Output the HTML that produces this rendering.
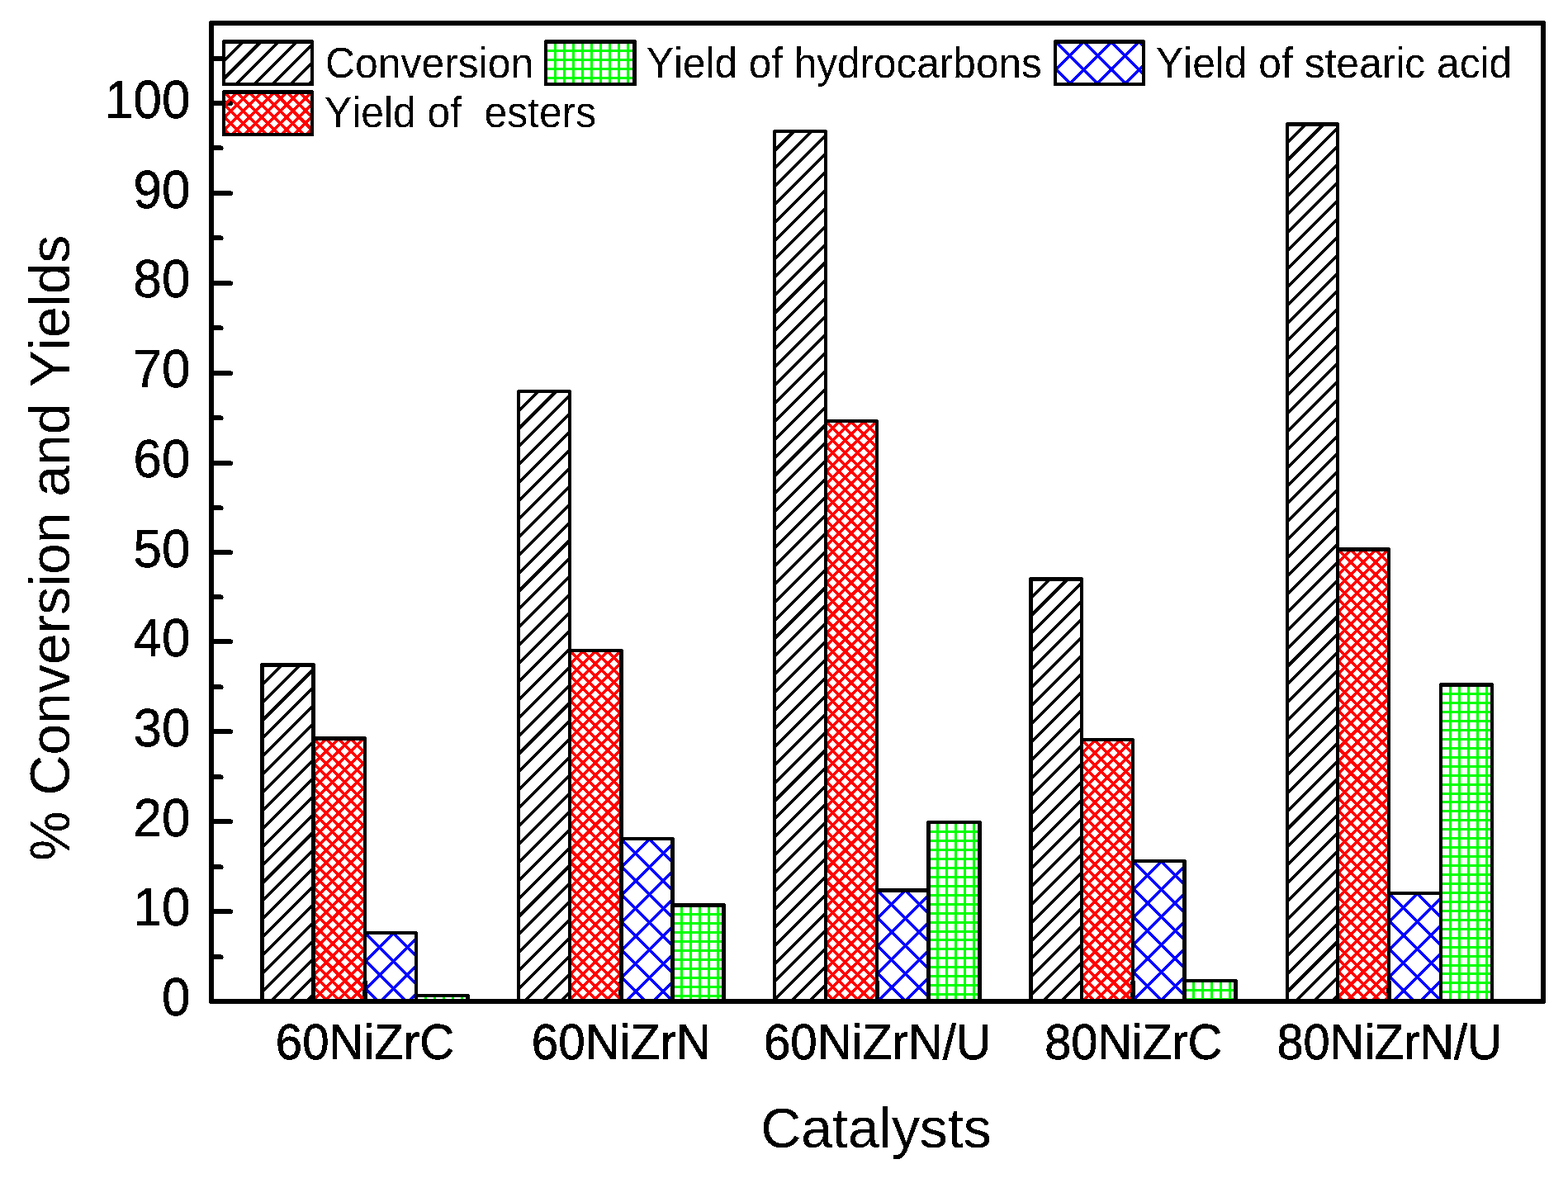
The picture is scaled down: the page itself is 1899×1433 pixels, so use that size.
<!DOCTYPE html>
<html lang="en"><head><meta charset="utf-8"><title>Conversion and yields over catalysts</title>
<style>
html,body{margin:0;padding:0;background:#fff}
body{width:1899px;height:1433px;overflow:hidden}
svg{display:block;font-family:"Liberation Sans",Arial,Helvetica,sans-serif;font-kerning:none}
text{fill:#000;white-space:pre}
</style></head><body>
<svg width="1899" height="1433" viewBox="0 0 1899 1433" role="img" aria-label="Grouped bar chart: percent conversion and yields for five catalysts">
<defs><filter id="bw" x="-5%" y="-20%" width="110%" height="140%" color-interpolation-filters="sRGB"><feComponentTransfer><feFuncA type="discrete" tableValues="0 1"/></feComponentTransfer></filter><clipPath id="c1"><rect x="320" y="808" width="57" height="402"/></clipPath><clipPath id="c2"><rect x="382" y="897" width="58" height="313"/></clipPath><clipPath id="c3"><rect x="444" y="1132" width="58" height="78"/></clipPath><clipPath id="c4"><rect x="506" y="1208" width="58" height="2"/></clipPath><clipPath id="c5"><rect x="630" y="476" width="58" height="734"/></clipPath><clipPath id="c6"><rect x="692" y="790" width="58" height="420"/></clipPath><clipPath id="c7"><rect x="755" y="1018" width="57" height="192"/></clipPath><clipPath id="c8"><rect x="817" y="1099" width="57" height="111"/></clipPath><clipPath id="c9"><rect x="940" y="161" width="58" height="1049"/></clipPath><clipPath id="c10"><rect x="1002" y="512" width="58" height="698"/></clipPath><clipPath id="c11"><rect x="1064" y="1081" width="58" height="129"/></clipPath><clipPath id="c12"><rect x="1127" y="998" width="57" height="212"/></clipPath><clipPath id="c13"><rect x="1251" y="704" width="57" height="506"/></clipPath><clipPath id="c14"><rect x="1312" y="898" width="58" height="312"/></clipPath><clipPath id="c15"><rect x="1374" y="1045" width="58" height="165"/></clipPath><clipPath id="c16"><rect x="1437" y="1190" width="57" height="20"/></clipPath><clipPath id="c17"><rect x="1561" y="153" width="57" height="1057"/></clipPath><clipPath id="c18"><rect x="1622" y="668" width="58" height="542"/></clipPath><clipPath id="c19"><rect x="1684" y="1084" width="59" height="126"/></clipPath><clipPath id="c20"><rect x="1747" y="832" width="58" height="378"/></clipPath><clipPath id="c21"><rect x="273" y="53" width="103" height="47"/></clipPath><clipPath id="c22"><rect x="663" y="53" width="103" height="47"/></clipPath><clipPath id="c23"><rect x="1280" y="53" width="103" height="47"/></clipPath><clipPath id="c24"><rect x="273" y="114" width="103" height="47"/></clipPath></defs>
<rect width="1899" height="1433" fill="#fff"/>
<path id="ticks" d="M259 1156h9v1h2v2h1v1h-1v2H259zM259 1101h21v1h2v4h-1v1H259zM259 1047h9v1h2v2h1v1h-1v2H259zM259 992h21v1h2v4h-1v1H259zM259 938h9v1h2v2h1v1h-1v2H259zM259 883h21v1h2v4h-1v1H259zM259 829h9v1h2v2h1v1h-1v2H259zM259 774h21v1h2v4h-1v1H259zM259 720h9v1h2v2h1v1h-1v2H259zM259 666h21v1h2v4h-1v1H259zM259 612h9v1h2v2h1v1h-1v2H259zM259 558h21v1h2v4h-1v1H259zM259 503h9v1h2v2h1v1h-1v2H259zM259 449h21v1h2v4h-1v1H259zM259 394h9v1h2v2h1v1h-1v2H259zM259 340h21v1h2v4h-1v1H259zM259 285h9v1h2v2h1v1h-1v2H259zM259 231h21v1h2v4h-1v1H259zM259 176h9v1h2v2h1v1h-1v2H259zM259 122h21v1h2v4h-1v1H259zM259 68h11v6H259zM439 1210V1189l1 -1h4l1 1V1210zM749 1210V1189l1 -1h4l1 1V1210zM1060 1210V1189l1 -1h3l1 1V1210zM1369 1210V1189l1 -1h4l1 1V1210zM1679 1210V1189l1 -1h4l1 1V1210z" fill="#000" shape-rendering="crispEdges"/>
<g id="hatch" fill="none" shape-rendering="crispEdges">
<path clip-path="url(#c1)" d="M316 808.81L381 743.81M316 830.7L381 765.7M316 852.59L381 787.59M316 874.48L381 809.48M316 896.37L381 831.37M316 918.26L381 853.26M316 940.15L381 875.15M316 962.04L381 897.04M316 983.93L381 918.93M316 1005.82L381 940.82M316 1027.71L381 962.71M316 1049.6L381 984.6M316 1071.49L381 1006.49M316 1093.38L381 1028.38M316 1115.27L381 1050.27M316 1137.16L381 1072.16M316 1159.05L381 1094.05M316 1180.94L381 1115.94M316 1202.83L381 1137.83M316 1224.72L381 1159.72M316 1246.61L381 1181.61M316 1268.5L381 1203.5" stroke="#000" stroke-width="3.6"/>
<path clip-path="url(#c2)" d="M378 896.7L444 830.7M378 911.75L444 845.75M378 926.8L444 860.8M378 941.85L444 875.85M378 956.9L444 890.9M378 971.95L444 905.95M378 987L444 921M378 1002.05L444 936.05M378 1017.1L444 951.1M378 1032.15L444 966.15M378 1047.2L444 981.2M378 1062.25L444 996.25M378 1077.3L444 1011.3M378 1092.35L444 1026.35M378 1107.4L444 1041.4M378 1122.45L444 1056.45M378 1137.5L444 1071.5M378 1152.55L444 1086.55M378 1167.6L444 1101.6M378 1182.65L444 1116.65M378 1197.7L444 1131.7M378 1212.75L444 1146.75M378 1227.8L444 1161.8M378 1242.85L444 1176.85M378 1257.9L444 1191.9M378 1272.95L444 1206.95M378 1208.75L444 1274.75M378 1193.7L444 1259.7M378 1178.65L444 1244.65M378 1163.6L444 1229.6M378 1148.55L444 1214.55M378 1133.5L444 1199.5M378 1118.45L444 1184.45M378 1103.4L444 1169.4M378 1088.35L444 1154.35M378 1073.3L444 1139.3M378 1058.25L444 1124.25M378 1043.2L444 1109.2M378 1028.15L444 1094.15M378 1013.1L444 1079.1M378 998.05L444 1064.05M378 983L444 1049M378 967.95L444 1033.95M378 952.9L444 1018.9M378 937.85L444 1003.85M378 922.8L444 988.8M378 907.75L444 973.75M378 892.7L444 958.7M378 877.65L444 943.65M378 862.6L444 928.6M378 847.55L444 913.55M378 832.5L444 898.5" stroke="#f00" stroke-width="3.6"/>
<path clip-path="url(#c3)" d="M440 1133.7L506 1067.7M440 1167.2L506 1101.2M440 1200.7L506 1134.7M440 1234.2L506 1168.2M440 1267.7L506 1201.7M440 1194.7L506 1260.7M440 1161.2L506 1227.2M440 1127.7L506 1193.7M440 1094.2L506 1160.2" stroke="#00f" stroke-width="3.6"/>
<path clip-path="url(#c4)" d="M515.95 1208V1210M526.89 1208V1210M537.84 1208V1210M548.78 1208V1210M559.73 1208V1210" stroke="#0f0" stroke-width="3"/>
<path clip-path="url(#c5)" d="M626 477.71L692 411.71M626 499.6L692 433.6M626 521.49L692 455.49M626 543.38L692 477.38M626 565.27L692 499.27M626 587.16L692 521.16M626 609.05L692 543.05M626 630.94L692 564.94M626 652.83L692 586.83M626 674.72L692 608.72M626 696.61L692 630.61M626 718.5L692 652.5M626 740.39L692 674.39M626 762.28L692 696.28M626 784.17L692 718.17M626 806.06L692 740.06M626 827.95L692 761.95M626 849.84L692 783.84M626 871.73L692 805.73M626 893.62L692 827.62M626 915.51L692 849.51M626 937.4L692 871.4M626 959.29L692 893.29M626 981.18L692 915.18M626 1003.07L692 937.07M626 1024.96L692 958.96M626 1046.85L692 980.85M626 1068.74L692 1002.74M626 1090.63L692 1024.63M626 1112.52L692 1046.52M626 1134.41L692 1068.41M626 1156.3L692 1090.3M626 1178.19L692 1112.19M626 1200.08L692 1134.08M626 1221.97L692 1155.97M626 1243.86L692 1177.86M626 1265.75L692 1199.75" stroke="#000" stroke-width="3.6"/>
<path clip-path="url(#c6)" d="M688 791.7L754 725.7M688 806.75L754 740.75M688 821.8L754 755.8M688 836.85L754 770.85M688 851.9L754 785.9M688 866.95L754 800.95M688 882L754 816M688 897.05L754 831.05M688 912.1L754 846.1M688 927.15L754 861.15M688 942.2L754 876.2M688 957.25L754 891.25M688 972.3L754 906.3M688 987.35L754 921.35M688 1002.4L754 936.4M688 1017.45L754 951.45M688 1032.5L754 966.5M688 1047.55L754 981.55M688 1062.6L754 996.6M688 1077.65L754 1011.65M688 1092.7L754 1026.7M688 1107.75L754 1041.75M688 1122.8L754 1056.8M688 1137.85L754 1071.85M688 1152.9L754 1086.9M688 1167.95L754 1101.95M688 1183L754 1117M688 1198.05L754 1132.05M688 1213.1L754 1147.1M688 1228.15L754 1162.15M688 1243.2L754 1177.2M688 1258.25L754 1192.25M688 1273.3L754 1207.3M688 1207.1L754 1273.1M688 1192.05L754 1258.05M688 1177L754 1243M688 1161.95L754 1227.95M688 1146.9L754 1212.9M688 1131.85L754 1197.85M688 1116.8L754 1182.8M688 1101.75L754 1167.75M688 1086.7L754 1152.7M688 1071.65L754 1137.65M688 1056.6L754 1122.6M688 1041.55L754 1107.55M688 1026.5L754 1092.5M688 1011.45L754 1077.45M688 996.4L754 1062.4M688 981.35L754 1047.35M688 966.3L754 1032.3M688 951.25L754 1017.25M688 936.2L754 1002.2M688 921.15L754 987.15M688 906.1L754 972.1M688 891.05L754 957.05M688 876L754 942M688 860.95L754 926.95M688 845.9L754 911.9M688 830.85L754 896.85M688 815.8L754 881.8M688 800.75L754 866.75M688 785.7L754 851.7M688 770.65L754 836.65M688 755.6L754 821.6M688 740.55L754 806.55M688 725.5L754 791.5" stroke="#f00" stroke-width="3.6"/>
<path clip-path="url(#c7)" d="M751 1018.7L816 953.7M751 1052.2L816 987.2M751 1085.7L816 1020.7M751 1119.2L816 1054.2M751 1152.7L816 1087.7M751 1186.2L816 1121.2M751 1219.7L816 1154.7M751 1253.2L816 1188.2M751 1182.2L816 1247.2M751 1148.7L816 1213.7M751 1115.2L816 1180.2M751 1081.7L816 1146.7M751 1048.2L816 1113.2M751 1014.7L816 1079.7M751 981.2L816 1046.2" stroke="#00f" stroke-width="3.6"/>
<path clip-path="url(#c8)" d="M825.95 1099V1210M836.89 1099V1210M847.84 1099V1210M858.78 1099V1210M869.73 1099V1210M817 1107.64H874M817 1118.59H874M817 1129.53H874M817 1140.48H874M817 1151.42H874M817 1162.37H874M817 1173.31H874M817 1184.26H874M817 1195.2H874M817 1206.15H874" stroke="#0f0" stroke-width="3"/>
<path clip-path="url(#c9)" d="M936 162.61L1002 96.61M936 184.5L1002 118.5M936 206.39L1002 140.39M936 228.28L1002 162.28M936 250.17L1002 184.17M936 272.06L1002 206.06M936 293.95L1002 227.95M936 315.84L1002 249.84M936 337.73L1002 271.73M936 359.62L1002 293.62M936 381.51L1002 315.51M936 403.4L1002 337.4M936 425.29L1002 359.29M936 447.18L1002 381.18M936 469.07L1002 403.07M936 490.96L1002 424.96M936 512.85L1002 446.85M936 534.74L1002 468.74M936 556.63L1002 490.63M936 578.52L1002 512.52M936 600.41L1002 534.41M936 622.3L1002 556.3M936 644.19L1002 578.19M936 666.08L1002 600.08M936 687.97L1002 621.97M936 709.86L1002 643.86M936 731.75L1002 665.75M936 753.64L1002 687.64M936 775.53L1002 709.53M936 797.42L1002 731.42M936 819.31L1002 753.31M936 841.2L1002 775.2M936 863.09L1002 797.09M936 884.98L1002 818.98M936 906.87L1002 840.87M936 928.76L1002 862.76M936 950.65L1002 884.65M936 972.54L1002 906.54M936 994.43L1002 928.43M936 1016.32L1002 950.32M936 1038.21L1002 972.21M936 1060.1L1002 994.1M936 1081.99L1002 1015.99M936 1103.88L1002 1037.88M936 1125.77L1002 1059.77M936 1147.66L1002 1081.66M936 1169.55L1002 1103.55M936 1191.44L1002 1125.44M936 1213.33L1002 1147.33M936 1235.22L1002 1169.22M936 1257.11L1002 1191.11M936 1279L1002 1213" stroke="#000" stroke-width="3.6"/>
<path clip-path="url(#c10)" d="M998 513.7L1064 447.7M998 528.75L1064 462.75M998 543.8L1064 477.8M998 558.85L1064 492.85M998 573.9L1064 507.9M998 588.95L1064 522.95M998 604L1064 538M998 619.05L1064 553.05M998 634.1L1064 568.1M998 649.15L1064 583.15M998 664.2L1064 598.2M998 679.25L1064 613.25M998 694.3L1064 628.3M998 709.35L1064 643.35M998 724.4L1064 658.4M998 739.45L1064 673.45M998 754.5L1064 688.5M998 769.55L1064 703.55M998 784.6L1064 718.6M998 799.65L1064 733.65M998 814.7L1064 748.7M998 829.75L1064 763.75M998 844.8L1064 778.8M998 859.85L1064 793.85M998 874.9L1064 808.9M998 889.95L1064 823.95M998 905L1064 839M998 920.05L1064 854.05M998 935.1L1064 869.1M998 950.15L1064 884.15M998 965.2L1064 899.2M998 980.25L1064 914.25M998 995.3L1064 929.3M998 1010.35L1064 944.35M998 1025.4L1064 959.4M998 1040.45L1064 974.45M998 1055.5L1064 989.5M998 1070.55L1064 1004.55M998 1085.6L1064 1019.6M998 1100.65L1064 1034.65M998 1115.7L1064 1049.7M998 1130.75L1064 1064.75M998 1145.8L1064 1079.8M998 1160.85L1064 1094.85M998 1175.9L1064 1109.9M998 1190.95L1064 1124.95M998 1206L1064 1140M998 1221.05L1064 1155.05M998 1236.1L1064 1170.1M998 1251.15L1064 1185.15M998 1266.2L1064 1200.2M998 1200L1064 1266M998 1184.95L1064 1250.95M998 1169.9L1064 1235.9M998 1154.85L1064 1220.85M998 1139.8L1064 1205.8M998 1124.75L1064 1190.75M998 1109.7L1064 1175.7M998 1094.65L1064 1160.65M998 1079.6L1064 1145.6M998 1064.55L1064 1130.55M998 1049.5L1064 1115.5M998 1034.45L1064 1100.45M998 1019.4L1064 1085.4M998 1004.35L1064 1070.35M998 989.3L1064 1055.3M998 974.25L1064 1040.25M998 959.2L1064 1025.2M998 944.15L1064 1010.15M998 929.1L1064 995.1M998 914.05L1064 980.05M998 899L1064 965M998 883.95L1064 949.95M998 868.9L1064 934.9M998 853.85L1064 919.85M998 838.8L1064 904.8M998 823.75L1064 889.75M998 808.7L1064 874.7M998 793.65L1064 859.65M998 778.6L1064 844.6M998 763.55L1064 829.55M998 748.5L1064 814.5M998 733.45L1064 799.45M998 718.4L1064 784.4M998 703.35L1064 769.35M998 688.3L1064 754.3M998 673.25L1064 739.25M998 658.2L1064 724.2M998 643.15L1064 709.15M998 628.1L1064 694.1M998 613.05L1064 679.05M998 598L1064 664M998 582.95L1064 648.95M998 567.9L1064 633.9M998 552.85L1064 618.85M998 537.8L1064 603.8M998 522.75L1064 588.75M998 507.7L1064 573.7M998 492.65L1064 558.65M998 477.6L1064 543.6M998 462.55L1064 528.55M998 447.5L1064 513.5" stroke="#f00" stroke-width="3.6"/>
<path clip-path="url(#c11)" d="M1060 1081.7L1126 1015.7M1060 1115.2L1126 1049.2M1060 1148.7L1126 1082.7M1060 1182.2L1126 1116.2M1060 1215.7L1126 1149.7M1060 1249.2L1126 1183.2M1060 1209.7L1126 1275.7M1060 1176.2L1126 1242.2M1060 1142.7L1126 1208.7M1060 1109.2L1126 1175.2M1060 1075.7L1126 1141.7M1060 1042.2L1126 1108.2" stroke="#00f" stroke-width="3.6"/>
<path clip-path="url(#c12)" d="M1135.94 998V1210M1146.89 998V1210M1157.83 998V1210M1168.78 998V1210M1179.72 998V1210M1127 1007.65H1184M1127 1018.59H1184M1127 1029.54H1184M1127 1040.48H1184M1127 1051.42H1184M1127 1062.37H1184M1127 1073.31H1184M1127 1084.26H1184M1127 1095.2H1184M1127 1106.15H1184M1127 1117.09H1184M1127 1128.04H1184M1127 1138.98H1184M1127 1149.93H1184M1127 1160.87H1184M1127 1171.82H1184M1127 1182.76H1184M1127 1193.71H1184M1127 1204.65H1184" stroke="#0f0" stroke-width="3"/>
<path clip-path="url(#c13)" d="M1247 703.76L1312 638.76M1247 725.65L1312 660.65M1247 747.54L1312 682.54M1247 769.43L1312 704.43M1247 791.32L1312 726.32M1247 813.21L1312 748.21M1247 835.1L1312 770.1M1247 856.99L1312 791.99M1247 878.88L1312 813.88M1247 900.77L1312 835.77M1247 922.66L1312 857.66M1247 944.55L1312 879.55M1247 966.44L1312 901.44M1247 988.33L1312 923.33M1247 1010.22L1312 945.22M1247 1032.11L1312 967.11M1247 1054L1312 989M1247 1075.89L1312 1010.89M1247 1097.78L1312 1032.78M1247 1119.67L1312 1054.67M1247 1141.56L1312 1076.56M1247 1163.45L1312 1098.45M1247 1185.34L1312 1120.34M1247 1207.23L1312 1142.23M1247 1229.12L1312 1164.12M1247 1251.01L1312 1186.01M1247 1272.9L1312 1207.9" stroke="#000" stroke-width="3.6"/>
<path clip-path="url(#c14)" d="M1308 899.7L1374 833.7M1308 914.75L1374 848.75M1308 929.8L1374 863.8M1308 944.85L1374 878.85M1308 959.9L1374 893.9M1308 974.95L1374 908.95M1308 990L1374 924M1308 1005.05L1374 939.05M1308 1020.1L1374 954.1M1308 1035.15L1374 969.15M1308 1050.2L1374 984.2M1308 1065.25L1374 999.25M1308 1080.3L1374 1014.3M1308 1095.35L1374 1029.35M1308 1110.4L1374 1044.4M1308 1125.45L1374 1059.45M1308 1140.5L1374 1074.5M1308 1155.55L1374 1089.55M1308 1170.6L1374 1104.6M1308 1185.65L1374 1119.65M1308 1200.7L1374 1134.7M1308 1215.75L1374 1149.75M1308 1230.8L1374 1164.8M1308 1245.85L1374 1179.85M1308 1260.9L1374 1194.9M1308 1275.95L1374 1209.95M1308 1209.75L1374 1275.75M1308 1194.7L1374 1260.7M1308 1179.65L1374 1245.65M1308 1164.6L1374 1230.6M1308 1149.55L1374 1215.55M1308 1134.5L1374 1200.5M1308 1119.45L1374 1185.45M1308 1104.4L1374 1170.4M1308 1089.35L1374 1155.35M1308 1074.3L1374 1140.3M1308 1059.25L1374 1125.25M1308 1044.2L1374 1110.2M1308 1029.15L1374 1095.15M1308 1014.1L1374 1080.1M1308 999.05L1374 1065.05M1308 984L1374 1050M1308 968.95L1374 1034.95M1308 953.9L1374 1019.9M1308 938.85L1374 1004.85M1308 923.8L1374 989.8M1308 908.75L1374 974.75M1308 893.7L1374 959.7M1308 878.65L1374 944.65M1308 863.6L1374 929.6M1308 848.55L1374 914.55M1308 833.5L1374 899.5" stroke="#f00" stroke-width="3.6"/>
<path clip-path="url(#c15)" d="M1370 1046.7L1436 980.7M1370 1080.2L1436 1014.2M1370 1113.7L1436 1047.7M1370 1147.2L1436 1081.2M1370 1180.7L1436 1114.7M1370 1214.2L1436 1148.2M1370 1247.7L1436 1181.7M1370 1208.2L1436 1274.2M1370 1174.7L1436 1240.7M1370 1141.2L1436 1207.2M1370 1107.7L1436 1173.7M1370 1074.2L1436 1140.2M1370 1040.7L1436 1106.7M1370 1007.2L1436 1073.2" stroke="#00f" stroke-width="3.6"/>
<path clip-path="url(#c16)" d="M1445.94 1190V1210M1456.89 1190V1210M1467.83 1190V1210M1478.78 1190V1210M1489.72 1190V1210M1437 1199.64H1494M1437 1210.59H1494" stroke="#0f0" stroke-width="3"/>
<path clip-path="url(#c17)" d="M1557 152.76L1622 87.76M1557 174.65L1622 109.65M1557 196.54L1622 131.54M1557 218.43L1622 153.43M1557 240.32L1622 175.32M1557 262.21L1622 197.21M1557 284.1L1622 219.1M1557 305.99L1622 240.99M1557 327.88L1622 262.88M1557 349.77L1622 284.77M1557 371.66L1622 306.66M1557 393.55L1622 328.55M1557 415.44L1622 350.44M1557 437.33L1622 372.33M1557 459.22L1622 394.22M1557 481.11L1622 416.11M1557 503L1622 438M1557 524.89L1622 459.89M1557 546.78L1622 481.78M1557 568.67L1622 503.67M1557 590.56L1622 525.56M1557 612.45L1622 547.45M1557 634.34L1622 569.34M1557 656.23L1622 591.23M1557 678.12L1622 613.12M1557 700.01L1622 635.01M1557 721.9L1622 656.9M1557 743.79L1622 678.79M1557 765.68L1622 700.68M1557 787.57L1622 722.57M1557 809.46L1622 744.46M1557 831.35L1622 766.35M1557 853.24L1622 788.24M1557 875.13L1622 810.13M1557 897.02L1622 832.02M1557 918.91L1622 853.91M1557 940.8L1622 875.8M1557 962.69L1622 897.69M1557 984.58L1622 919.58M1557 1006.47L1622 941.47M1557 1028.36L1622 963.36M1557 1050.25L1622 985.25M1557 1072.14L1622 1007.14M1557 1094.03L1622 1029.03M1557 1115.92L1622 1050.92M1557 1137.81L1622 1072.81M1557 1159.7L1622 1094.7M1557 1181.59L1622 1116.59M1557 1203.48L1622 1138.48M1557 1225.37L1622 1160.37M1557 1247.26L1622 1182.26M1557 1269.15L1622 1204.15" stroke="#000" stroke-width="3.6"/>
<path clip-path="url(#c18)" d="M1618 668.7L1684 602.7M1618 683.75L1684 617.75M1618 698.8L1684 632.8M1618 713.85L1684 647.85M1618 728.9L1684 662.9M1618 743.95L1684 677.95M1618 759L1684 693M1618 774.05L1684 708.05M1618 789.1L1684 723.1M1618 804.15L1684 738.15M1618 819.2L1684 753.2M1618 834.25L1684 768.25M1618 849.3L1684 783.3M1618 864.35L1684 798.35M1618 879.4L1684 813.4M1618 894.45L1684 828.45M1618 909.5L1684 843.5M1618 924.55L1684 858.55M1618 939.6L1684 873.6M1618 954.65L1684 888.65M1618 969.7L1684 903.7M1618 984.75L1684 918.75M1618 999.8L1684 933.8M1618 1014.85L1684 948.85M1618 1029.9L1684 963.9M1618 1044.95L1684 978.95M1618 1060L1684 994M1618 1075.05L1684 1009.05M1618 1090.1L1684 1024.1M1618 1105.15L1684 1039.15M1618 1120.2L1684 1054.2M1618 1135.25L1684 1069.25M1618 1150.3L1684 1084.3M1618 1165.35L1684 1099.35M1618 1180.4L1684 1114.4M1618 1195.45L1684 1129.45M1618 1210.5L1684 1144.5M1618 1225.55L1684 1159.55M1618 1240.6L1684 1174.6M1618 1255.65L1684 1189.65M1618 1270.7L1684 1204.7M1618 1204.5L1684 1270.5M1618 1189.45L1684 1255.45M1618 1174.4L1684 1240.4M1618 1159.35L1684 1225.35M1618 1144.3L1684 1210.3M1618 1129.25L1684 1195.25M1618 1114.2L1684 1180.2M1618 1099.15L1684 1165.15M1618 1084.1L1684 1150.1M1618 1069.05L1684 1135.05M1618 1054L1684 1120M1618 1038.95L1684 1104.95M1618 1023.9L1684 1089.9M1618 1008.85L1684 1074.85M1618 993.8L1684 1059.8M1618 978.75L1684 1044.75M1618 963.7L1684 1029.7M1618 948.65L1684 1014.65M1618 933.6L1684 999.6M1618 918.55L1684 984.55M1618 903.5L1684 969.5M1618 888.45L1684 954.45M1618 873.4L1684 939.4M1618 858.35L1684 924.35M1618 843.3L1684 909.3M1618 828.25L1684 894.25M1618 813.2L1684 879.2M1618 798.15L1684 864.15M1618 783.1L1684 849.1M1618 768.05L1684 834.05M1618 753L1684 819M1618 737.95L1684 803.95M1618 722.9L1684 788.9M1618 707.85L1684 773.85M1618 692.8L1684 758.8M1618 677.75L1684 743.75M1618 662.7L1684 728.7M1618 647.65L1684 713.65M1618 632.6L1684 698.6M1618 617.55L1684 683.55M1618 602.5L1684 668.5" stroke="#f00" stroke-width="3.6"/>
<path clip-path="url(#c19)" d="M1680 1085.7L1747 1018.7M1680 1119.2L1747 1052.2M1680 1152.7L1747 1085.7M1680 1186.2L1747 1119.2M1680 1219.7L1747 1152.7M1680 1253.2L1747 1186.2M1680 1180.2L1747 1247.2M1680 1146.7L1747 1213.7M1680 1113.2L1747 1180.2M1680 1079.7L1747 1146.7M1680 1046.2L1747 1113.2" stroke="#00f" stroke-width="3.6"/>
<path clip-path="url(#c20)" d="M1756.94 832V1210M1767.89 832V1210M1778.83 832V1210M1789.78 832V1210M1800.72 832V1210M1747 840.65H1805M1747 851.59H1805M1747 862.54H1805M1747 873.48H1805M1747 884.43H1805M1747 895.37H1805M1747 906.32H1805M1747 917.26H1805M1747 928.21H1805M1747 939.15H1805M1747 950.1H1805M1747 961.04H1805M1747 971.99H1805M1747 982.93H1805M1747 993.88H1805M1747 1004.82H1805M1747 1015.77H1805M1747 1026.71H1805M1747 1037.66H1805M1747 1048.6H1805M1747 1059.55H1805M1747 1070.49H1805M1747 1081.44H1805M1747 1092.38H1805M1747 1103.33H1805M1747 1114.27H1805M1747 1125.22H1805M1747 1136.16H1805M1747 1147.11H1805M1747 1158.05H1805M1747 1169H1805M1747 1179.94H1805M1747 1190.88H1805M1747 1201.83H1805M1747 1212.77H1805" stroke="#0f0" stroke-width="3"/>
<path clip-path="url(#c21)" d="M269 53.7L380 -57.3M269 75.59L380 -35.41M269 97.48L380 -13.52M269 119.37L380 8.37M269 141.26L380 30.26M269 163.15L380 52.15M269 185.04L380 74.04M269 206.93L380 95.93" stroke="#000" stroke-width="3.6"/>
<path clip-path="url(#c22)" d="M672.95 53V100M683.89 53V100M694.84 53V100M705.78 53V100M716.73 53V100M727.67 53V100M738.62 53V100M749.56 53V100M760.51 53V100M663 61.65H766M663 72.59H766M663 83.53H766M663 94.48H766" stroke="#0f0" stroke-width="3"/>
<path clip-path="url(#c23)" d="M1276 53.7L1387 -57.3M1276 87.2L1387 -23.8M1276 120.7L1387 9.7M1276 154.2L1387 43.2M1276 187.7L1387 76.7M1276 81.2L1387 192.2M1276 47.7L1387 158.7M1276 14.2L1387 125.2M1276 -19.3L1387 91.7M1276 -52.8L1387 58.2" stroke="#00f" stroke-width="3.6"/>
<path clip-path="url(#c24)" d="M269 114.7L380 3.7M269 129.75L380 18.75M269 144.8L380 33.8M269 159.85L380 48.85M269 174.9L380 63.9M269 189.95L380 78.95M269 205L380 94M269 220.05L380 109.05M269 235.1L380 124.1M269 250.15L380 139.15M269 265.2L380 154.2M269 153.85L380 264.85M269 138.8L380 249.8M269 123.75L380 234.75M269 108.7L380 219.7M269 93.65L380 204.65M269 78.6L380 189.6M269 63.55L380 174.55M269 48.5L380 159.5M269 33.45L380 144.45M269 18.4L380 129.4M269 3.35L380 114.35" stroke="#f00" stroke-width="3.6"/>
</g>
<path id="bars" d="M315 803H382V1211h-5V808H320V1211h-5zM377 892H444V1211h-4V897H382V1211h-5zM440 1128H506V1211h-4V1132H444V1211h-4zM502 1204H569V1211h-5V1208H506V1211h-4zM626 472H692V1211h-4V476H630V1211h-4zM688 786H755V1211h-5V790H692V1211h-4zM750 1014H817V1211h-5V1018H755V1211h-5zM812 1094H879V1211h-5V1099H817V1211h-5zM936 157H1002V1211h-4V161H940V1211h-4zM998 508H1064V1211h-4V512H1002V1211h-4zM1060 1076H1127V1211h-5V1081H1064V1211h-4zM1122 994H1189V1211h-5V998H1127V1211h-5zM1246 699H1312V1211h-4V704H1251V1211h-5zM1308 894H1374V1211h-4V898H1312V1211h-4zM1370 1041H1437V1211h-5V1045H1374V1211h-4zM1432 1186H1499V1211h-5V1190H1437V1211h-5zM1557 148H1622V1211h-4V153H1561V1211h-4zM1618 663H1684V1211h-4V668H1622V1211h-4zM1680 1080H1747V1211h-4V1084H1684V1211h-4zM1743 827H1809V1211h-4V832H1747V1211h-4z" fill="#000" shape-rendering="crispEdges"/>
<path id="legend-boxes" d="M269 48h111v56h-111zM273 53v47h103v-47zM659 48h112v56h-112zM663 53v47h103v-47zM1276 48h111v56h-111zM1280 53v47h103v-47zM269 109h111v56h-111zM273 114v47h103v-47z" fill="#000" fill-rule="evenodd" shape-rendering="crispEdges"/>
<path id="frame" d="M253 25h1619v1191h-1619zM259 31v1179h1607v-1179z" fill="#000" fill-rule="evenodd" shape-rendering="crispEdges"/>
<path id="corner-nicks" d="M315 803h1v1h-1zM381 803h1v1h-1zM443 892h1v1h-1zM505 1128h1v1h-1zM568 1204h1v1h-1zM626 472h1v1h-1zM691 472h1v1h-1zM754 786h1v1h-1zM816 1014h1v1h-1zM878 1094h1v1h-1zM936 157h1v1h-1zM1001 157h1v1h-1zM1063 508h1v1h-1zM1122 994h1v1h-1zM1188 994h1v1h-1zM1246 699h1v1h-1zM1311 699h1v1h-1zM1373 894h1v1h-1zM1436 1041h1v1h-1zM1498 1186h1v1h-1zM1557 148h1v1h-1zM1621 148h1v1h-1zM1683 663h1v1h-1zM1743 827h1v1h-1zM1808 827h1v1h-1zM269 48h1v1h-1zM379 48h1v1h-1zM659 48h1v1h-1zM770 48h1v1h-1zM1276 48h1v1h-1zM1386 48h1v1h-1zM269 109h1v1h-1zM379 109h1v1h-1zM253 25h1v1h-1zM1871 25h1v1h-1zM253 1215h1v1h-1zM1871 1215h1v1h-1z" fill="#fff" shape-rendering="crispEdges"/>
<g id="legend-text" filter="url(#bw)"><text transform="translate(394.07 94) scale(0.9971 1.02)" font-size="50">Conversion</text><text transform="translate(782.91 94) scale(0.9902 1.02)" font-size="50">Yield of hydrocarbons</text><text transform="translate(1399.91 94) scale(0.9951 1.02)" font-size="50">Yield of stearic acid</text><text transform="translate(393.11 154) scale(0.9948 1.02)" font-size="50">Yield of  esters</text></g>
<g id="ylabels" filter="url(#bw)" stroke="#000" stroke-width="0.5"><text transform="translate(195.97 1230.3) scale(0.991 1.0465)" font-size="62.5">0</text><text transform="translate(161.53 1121.3) scale(0.991 1.0465)" font-size="62.5">10</text><text transform="translate(161.53 1013.3) scale(0.991 1.0465)" font-size="62.5">20</text><text transform="translate(161.53 904.3) scale(0.991 1.0465)" font-size="62.5">30</text><text transform="translate(161.53 795.3) scale(0.991 1.0465)" font-size="62.5">40</text><text transform="translate(161.53 687.3) scale(0.991 1.0465)" font-size="62.5">50</text><text transform="translate(161.53 578.3) scale(0.991 1.0465)" font-size="62.5">60</text><text transform="translate(161.53 469.3) scale(0.991 1.0465)" font-size="62.5">70</text><text transform="translate(161.53 360.3) scale(0.991 1.0465)" font-size="62.5">80</text><text transform="translate(161.53 252.3) scale(0.991 1.0465)" font-size="62.5">90</text><text transform="translate(127.08 143.3) scale(0.991 1.0465)" font-size="62.5">100</text></g>
<g id="xlabels" filter="url(#bw)" stroke="#000" stroke-width="0.7"><text transform="translate(333.85 1282.9) scale(0.9959 1.0429)" font-size="58.33">60NiZrC</text><text transform="translate(643.84 1282.9) scale(0.9999 1.0429)" font-size="58.33">60NiZrN</text><text transform="translate(924.89 1282.9) scale(0.9987 1.0429)" font-size="58.33">60NiZrN/U</text><text transform="translate(1265.19 1282.9) scale(0.9897 1.0429)" font-size="58.33">80NiZrC</text><text transform="translate(1546.45 1282.9) scale(0.9888 1.0429)" font-size="58.33">80NiZrN/U</text></g>
<g id="titles" filter="url(#bw)"><text transform="translate(921.25 1389.8) scale(0.9995 1.02)" font-size="68">Catalysts</text><text transform="translate(84.1 1042.77) rotate(-90) scale(0.9983 1.02)" font-size="68">% Conversion and Yields</text></g>
</svg></body></html>
